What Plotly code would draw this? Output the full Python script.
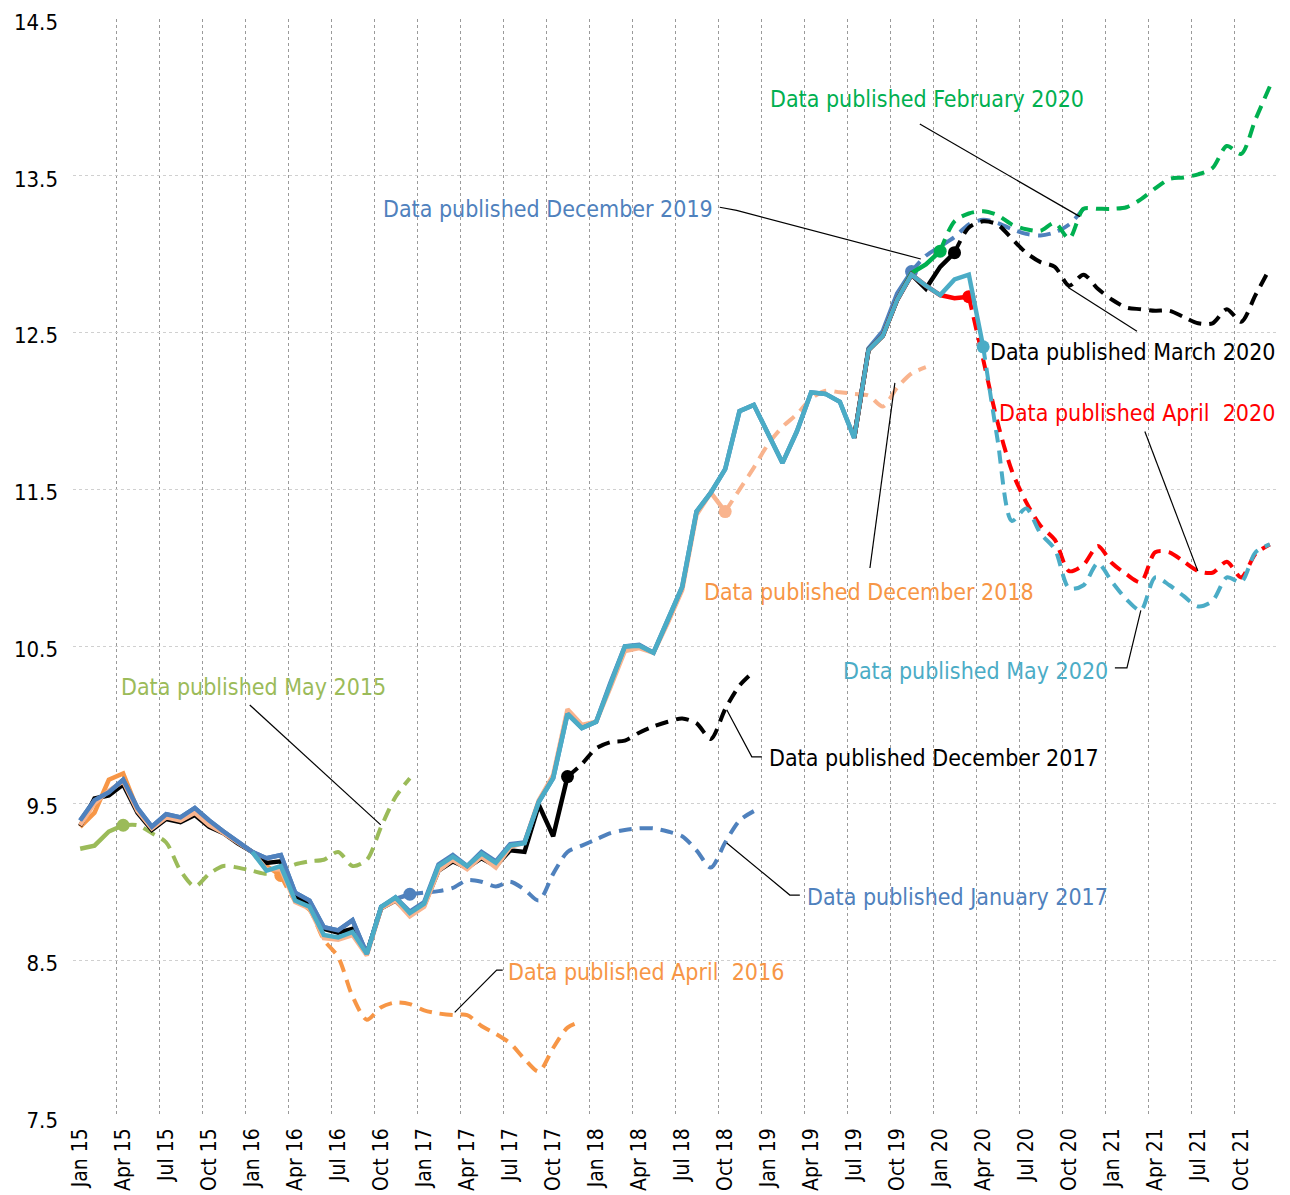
import plotly.graph_objects as go

FONT = "DejaVu Sans Condensed, Liberation Sans Narrow, Arial Narrow, sans-serif"

MONTHS = [f"{m} {y:02d}" for y in range(15, 22)
          for m in ["Jan", "Feb", "Mar", "Apr", "May", "Jun",
                    "Jul", "Aug", "Sep", "Oct", "Nov", "Dec"]]

tick_labels = ["Jan 15", "Apr 15", "Jul 15", "Oct 15", "Jan 16", "Apr 16", "Jul 16",
               "Oct 16", "Jan 17", "Apr 17", "Jul 17", "Oct 17", "Jan 18", "Apr 18",
               "Jul 18", "Oct 18", "Jan 19", "Apr 19", "Jul 19", "Oct 19", "Jan 20",
               "Apr 20", "Jul 20", "Oct 20", "Jan 21", "Apr 21", "Jul 21", "Oct 21"]
y_ticks = [7.5, 8.5, 9.5, 10.5, 11.5, 12.5, 13.5, 14.5]

# ---- data: each vintage starts at a month and has a last actual (marker) month ----
may2015 = [9.21, 9.23, 9.32, 9.36, 9.36, 9.31, 9.25, 9.07, 8.97, 9.05, 9.10, 9.09,
           9.07, 9.05, 9.07, 9.11, 9.13, 9.14, 9.19, 9.10, 9.14, 9.35, 9.54, 9.66]

apr2016 = [9.35, 9.44, 9.65, 9.69, 9.46, 9.34, 9.41, 9.40, 9.45, 9.37, 9.32, 9.25,
           9.19, 9.10, 9.04, 8.88, 8.82, 8.63, 8.52, 8.27, 8.12, 8.20, 8.23, 8.22,
           8.18, 8.16, 8.15, 8.15, 8.08, 8.03, 7.97, 7.87, 7.79, 7.94, 8.07, 8.11]

jan2017 = [9.39, 9.52, 9.57, 9.65, 9.47, 9.35, 9.43, 9.41, 9.47, 9.39, 9.32, 9.255,
           9.19, 9.15, 9.17, 8.93, 8.88, 8.71, 8.69, 8.755, 8.54, 8.84, 8.89, 8.92,
           8.93, 8.94, 8.96, 9.01, 9.00, 8.97, 9.00, 8.95, 8.88, 9.05, 9.19, 9.23,
           9.27, 9.31, 9.33, 9.34, 9.34, 9.32, 9.29, 9.20, 9.09, 9.25, 9.39, 9.45]

dec2017 = [9.355, 9.53, 9.55, 9.62, 9.44, 9.33, 9.40, 9.38, 9.425, 9.35, 9.31, 9.245,
           9.19, 9.12, 9.13, 8.90, 8.86, 8.70, 8.675, 8.70, 8.545, 8.83, 8.88, 8.79,
           8.85, 9.07, 9.13, 9.09, 9.15, 9.10, 9.20, 9.19, 9.49, 9.29, 9.67, 9.75,
           9.85, 9.89, 9.90, 9.95, 9.99, 10.02, 10.04, 10.01, 9.91, 10.10, 10.25, 10.34]

dec2018 = [9.36, 9.50, 9.58, 9.64, 9.45, 9.34, 9.41, 9.39, 9.44, 9.36, 9.31, 9.25,
           9.19, 9.08, 9.08, 8.87, 8.83, 8.64, 8.63, 8.66, 8.53, 8.83, 8.88, 8.78,
           8.84, 9.07, 9.14, 9.08, 9.16, 9.09, 9.22, 9.25, 9.52, 9.68, 10.10, 10.00,
           10.02, 10.24, 10.47, 10.49, 10.46, 10.65, 10.86, 11.34, 11.48, 11.36, 11.50, 11.64,
           11.79, 11.90, 11.98, 12.08, 12.13, 12.12, 12.11, 12.10, 12.03, 12.15, 12.24, 12.28]

dec2019 = [9.39, 9.52, 9.57, 9.65, 9.47, 9.35, 9.43, 9.41, 9.47, 9.39, 9.32, 9.255,
           9.19, 9.15, 9.17, 8.93, 8.88, 8.71, 8.69, 8.755, 8.54, 8.84, 8.90, 8.81,
           8.87, 9.11, 9.17, 9.10, 9.19, 9.13, 9.24, 9.25, 9.51, 9.66, 10.07, 9.98,
           10.02, 10.27, 10.50, 10.51, 10.46, 10.67, 10.88, 11.36, 11.48, 11.63, 12.00, 12.04,
           11.86, 11.67, 11.87, 12.12, 12.11, 12.06, 11.83, 12.40, 12.51, 12.75, 12.89, 12.99,
           13.05, 13.11, 13.19, 13.22, 13.20, 13.16, 13.13, 13.12, 13.14, 13.19, 13.29]

feb2020 = [11.83, 12.39, 12.48, 12.71, 12.88, 12.935,
           13.02, 13.21, 13.26, 13.275, 13.25, 13.19, 13.16, 13.15, 13.20, 13.10, 13.29, 13.29,
           13.29, 13.30, 13.35, 13.42, 13.48, 13.49, 13.51, 13.55, 13.69, 13.64, 13.86, 14.07]

mar2020 = [11.83, 12.39, 12.48, 12.71, 12.87, 12.78,
           12.92, 13.01, 13.17, 13.21, 13.19, 13.10, 13.01, 12.95, 12.92, 12.80, 12.87, 12.78,
           12.71, 12.66, 12.65, 12.64, 12.64, 12.60, 12.56, 12.56, 12.65, 12.57, 12.74, 12.91]

apr2020 = [11.83, 12.39, 12.48, 12.71, 12.87, 12.80,
           12.74, 12.72, 12.73, 12.33, 11.93, 11.62, 11.42, 11.27, 11.18, 10.98, 11.02, 11.14,
           11.03, 10.96, 10.91, 11.10, 11.10, 11.04, 10.98, 10.97, 11.04, 10.94, 11.09, 11.15]

may2020 = [9.19, 9.07, 9.10, 8.88, 8.84, 8.66, 8.645, 8.68, 8.54, 8.84, 8.90, 8.80,
           8.86, 9.10, 9.16, 9.10, 9.18, 9.12, 9.23, 9.245, 9.51, 9.66, 10.07, 9.98,
           10.02, 10.27, 10.50, 10.505, 10.46, 10.67, 10.88, 11.36, 11.48, 11.63, 12.00, 12.04,
           11.86, 11.67, 11.87, 12.12, 12.11, 12.06, 11.83, 12.39, 12.48, 12.71, 12.87, 12.80,
           12.74, 12.84, 12.87, 12.41, 11.82, 11.30, 11.38, 11.22, 11.12, 10.87, 10.89, 11.03,
           10.91, 10.80, 10.73, 10.94, 10.89, 10.82, 10.755, 10.79, 10.94, 10.91, 11.10, 11.15]

# vintage: (values, first month, last actual month, line colour)
vintages = [
    (may2015, "Jan 15", "Apr 15", "#9BBB59"),
    (apr2016, "Jan 15", "Mar 16", "#F79646"),
    (jan2017, "Jan 15", "Dec 16", "#4F81BD"),
    (dec2017, "Jan 15", "Nov 17", "#000000"),
    (dec2018, "Jan 15", "Oct 18", "#F9B48E"),
    (dec2019, "Jan 15", "Nov 19", "#4F81BD"),
    (feb2020, "Jul 19", "Jan 20", "#00B050"),
    (mar2020, "Jul 19", "Feb 20", "#000000"),
    (apr2020, "Jul 19", "Mar 20", "#FF0000"),
    (may2020, "Jan 16", "Apr 20", "#4BACC6"),
]

fig = go.Figure()
for vals, first, last, col in vintages:
    s = MONTHS.index(first)
    k = MONTHS.index(last) - s
    xs = list(range(s, s + len(vals)))
    fig.add_trace(go.Scatter(x=xs[:k + 1], y=vals[:k + 1], mode="lines",
                             line=dict(color=col, width=4.5), hoverinfo="skip",
                             showlegend=False))
    fig.add_trace(go.Scatter(x=xs[k:], y=vals[k:], mode="lines",
                             line=dict(color=col, width=4, dash="13px,8px",
                                       shape="spline", smoothing=0.8),
                             hoverinfo="skip", showlegend=False))
    fig.add_trace(go.Scatter(x=[xs[k]], y=[vals[k]], mode="markers",
                             marker=dict(color=col, size=13), hoverinfo="skip",
                             showlegend=False))

# ---- labels with leader lines (positions in axis units) ----
labels = [
    ("Data published May 2015", "#9BBB59", 2.68, 10.24, "left",
     [(11.83, 10.127), (20.97, 9.362)]),
    ("Data published April  2016", "#F79646", 29.7, 8.423, "left",
     [(26.13, 8.167), (29.06, 8.436), (29.48, 8.436)]),
    ("Data published January 2017", "#4F81BD", 50.56, 8.902, "left",
     [(45.11, 9.247), (49.51, 8.915), (50.21, 8.915)]),
    ("Data published December 2017", "#000000", 47.91, 9.789, "left",
     [(45.11, 10.096), (46.86, 9.796), (47.56, 9.796)]),
    ("Data published December 2018", "#F79646", 55.02, 10.847, "center",
     [(56.84, 12.18), (55.1, 11.0)]),
    ("Data published December 2019", "#4F81BD", 44.28, 13.29, "right",
     [(44.62, 13.30), (45.8, 13.28), (58.65, 12.97)]),
    ("Data published February 2020", "#00B050", 47.98, 13.99, "left",
     [(58.58, 13.83), (69.75, 13.24)]),
    ("Data published March 2020", "#000000", 83.5, 12.38, "right",
     [(68.91, 12.79), (73.73, 12.51)]),
    ("Data published April  2020", "#FF0000", 83.5, 11.99, "right",
     [(74.28, 11.87), (77.98, 10.98)]),
    ("Data published May 2020", "#4BACC6", 71.84, 10.344, "right",
     [(72.19, 10.363), (73.03, 10.363), (74.0, 10.73)]),
]
shapes = []
annotations = []
for text, col, tx, ty, anchor, pts in labels:
    annotations.append(dict(x=tx, y=ty, xref="x", yref="y", text=text, showarrow=False,
                            xanchor=anchor, yanchor="middle",
                            font=dict(family=FONT, size=23, color=col)))
    path = "M " + " L ".join(f"{px},{py}" for px, py in pts)
    shapes.append(dict(type="path", path=path, xref="x", yref="y",
                       line=dict(color="#000000", width=1.2)))

# page body adds an 8px offset; margins compensate for it
fig.update_layout(
    width=1290, height=1195,
    margin=dict(l=65, r=21, t=11, b=86),
    paper_bgcolor="white", plot_bgcolor="white",
    font=dict(family=FONT, color="#000000"),
    annotations=annotations, shapes=shapes,
    xaxis=dict(range=[-0.5, 83.5], tickmode="array", automargin=False,
               tickvals=[MONTHS.index(t) for t in tick_labels], ticktext=tick_labels,
               tickangle=-90, tickfont=dict(family=FONT, size=21, color="#000000"),
               showgrid=False, zeroline=False, showline=False, ticks="",
               ticklabelstandoff=6, ticklabeloverflow="allow",
               minor=dict(tickmode="linear", tick0=-0.5, dtick=3, showgrid=True,
                          gridcolor="#9A9A9A", griddash="dot", gridwidth=1, ticks="")),
    yaxis=dict(range=[7.5, 14.5], tickmode="array", tickvals=y_ticks, automargin=False,
               ticktext=[f"{v:.1f}" for v in y_ticks], ticklabeloverflow="allow",
               ticklabelshift=3,
               tickfont=dict(family=FONT, size=22, color="#000000"),
               showgrid=True, gridcolor="#D0D0D0", griddash="dot", gridwidth=1,
               zeroline=False, showline=False, ticks="", ticklabelstandoff=14),
)

fig.write_html("out.html")
